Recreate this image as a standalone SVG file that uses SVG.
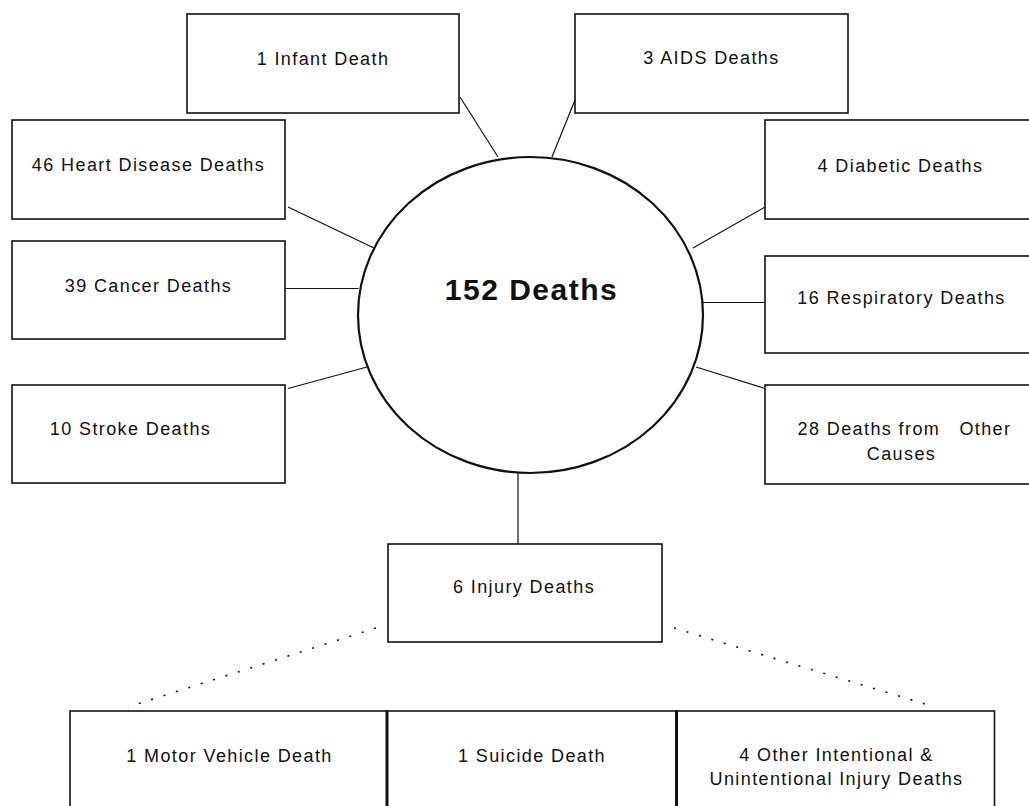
<svg xmlns="http://www.w3.org/2000/svg" width="1029" height="806" viewBox="0 0 1029 806">
<style>
.box{fill:#fff;stroke:#111;stroke-width:1.6}
.div{stroke:#111;stroke-width:3}
.t{font-family:"Liberation Sans",Arial,sans-serif;font-size:18px;letter-spacing:1.4px;text-anchor:middle;fill:#111}
.big{font-family:"Liberation Sans",Arial,sans-serif;font-size:30px;font-weight:bold;letter-spacing:1.5px;text-anchor:middle;fill:#111}
.ln{stroke:#111;stroke-width:1.2;fill:none}
.dot{stroke:#111;stroke-width:1.6;fill:none;stroke-dasharray:2 11}
</style>
<rect width="1029" height="806" fill="#fff"/>
<g id="connectors">
<line class="ln" x1="460" y1="97" x2="498" y2="157"/>
<line class="ln" x1="575" y1="100" x2="552" y2="157"/>
<line class="ln" x1="288" y1="207" x2="374" y2="248"/>
<line class="ln" x1="285" y1="288.5" x2="358.5" y2="288.5"/>
<line class="ln" x1="288" y1="388.5" x2="367" y2="367"/>
<line class="ln" x1="693" y1="248" x2="765" y2="207"/>
<line class="ln" x1="703" y1="302.5" x2="765" y2="302.5"/>
<line class="ln" x1="696" y1="367" x2="765" y2="388.5"/>
<line class="ln" x1="518" y1="473" x2="518" y2="544"/>
<line class="dot" x1="376" y1="628" x2="128" y2="707"/>
<line class="dot" x1="674" y1="628" x2="935" y2="707"/>
</g>
<g id="center">
<ellipse cx="530.5" cy="315" rx="172.5" ry="158" fill="#fff" stroke="#111" stroke-width="2.2"/>
<text class="big" x="531.5" y="300">152 Deaths</text>
</g>
<g id="infant">
<rect class="box" x="187" y="14" width="272" height="99"/>
<text class="t" x="323" y="65">1 Infant Death</text>
</g>
<g id="aids">
<rect class="box" x="575" y="14" width="273" height="99"/>
<text class="t" x="711.5" y="64">3 AIDS Deaths</text>
</g>
<g id="heart">
<rect class="box" x="12" y="120" width="273" height="99"/>
<text class="t" x="148.5" y="171">46 Heart Disease Deaths</text>
</g>
<g id="cancer">
<rect class="box" x="12" y="241" width="273" height="98"/>
<text class="t" x="148.5" y="291.5">39 Cancer Deaths</text>
</g>
<g id="stroke">
<rect class="box" x="12" y="385" width="273" height="98"/>
<text class="t" x="130.5" y="435">10 Stroke Deaths</text>
</g>
<g id="diabetic">
<rect class="box" x="765" y="120" width="275" height="99"/>
<text class="t" x="900.5" y="171.5">4 Diabetic Deaths</text>
</g>
<g id="respiratory">
<rect class="box" x="765" y="256" width="275" height="97"/>
<text class="t" x="901.5" y="304">16 Respiratory Deaths</text>
</g>
<g id="other">
<rect class="box" x="765" y="385" width="275" height="99"/>
<text class="t" x="904.5" y="435" style="white-space:pre">28 Deaths from   Other</text>
<text class="t" x="901.5" y="460">Causes</text>
</g>
<g id="injury">
<rect class="box" x="388" y="544" width="274" height="98"/>
<text class="t" x="524" y="593">6 Injury Deaths</text>
</g>
<g id="motor">
<rect class="box" x="70" y="711" width="317" height="110"/>
<text class="t" x="229.5" y="762">1 Motor Vehicle Death</text>
</g>
<g id="suicide">
<rect class="box" x="387" y="711" width="289.5" height="110"/>
<line class="div" x1="387" y1="711" x2="387" y2="806"/>
<line class="div" x1="676.5" y1="711" x2="676.5" y2="806"/>
<text class="t" x="532" y="762">1 Suicide Death</text>
</g>
<g id="otherinjury">
<rect class="box" x="676.5" y="711" width="318" height="110"/>
<line class="div" x1="676.5" y1="711" x2="676.5" y2="806"/>
<text class="t" x="836.5" y="761">4 Other Intentional &amp;</text>
<text class="t" x="836.5" y="785">Unintentional Injury Deaths</text>
</g>
</svg>
